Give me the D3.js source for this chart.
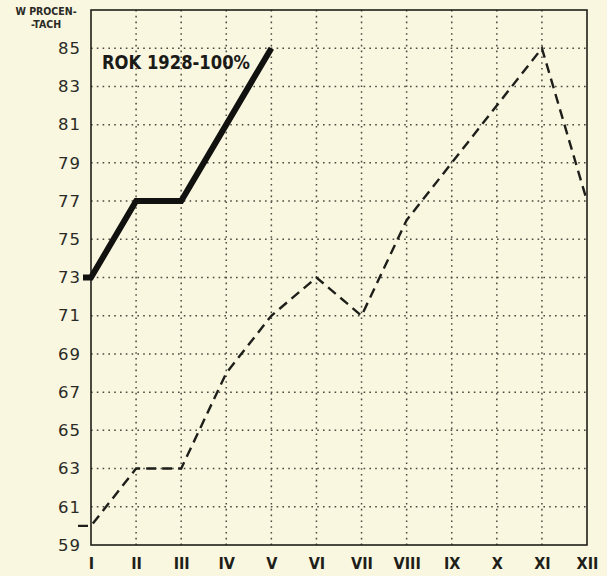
<!DOCTYPE html>
<html><head><meta charset="utf-8">
<script src="https://cdn.jsdelivr.net/npm/d3@7"></script>
<style>
html,body{margin:0;padding:0;background:#f9f7df;}
svg{display:block;}
</style></head>
<body>
<svg id="c" width="607" height="576"></svg>
<script>
const months = ["I","II","III","IV","V","VI","VII","VIII","IX","X","XI","XII"];
const yTicks = [59,61,63,65,67,69,71,73,75,77,79,81,83,85];
const series1928 = [73,77,77,81,85];            // solid, I–V
const seriesOther = [60,63,63,68,71,73,71,76,79,82,85,77]; // dashed, I–XII
const title = "ROK 1928-100%";
const unitLabel = ["W PROCEN-","-TACH"];

const svg = d3.select("#c");
const L = 91, R = 587, T = 10, B = 545;
const x = d3.scalePoint().domain(months).range([L, R]);
const y = d3.scaleLinear().domain([59, 87]).range([B, T]);
const ink = "#1e1e1a";

// grid
const g = svg.append("g");
g.selectAll("line.h").data(yTicks.filter(v => v > 59)).join("line")
  .attr("x1", L).attr("x2", R).attr("y1", d => y(d)).attr("y2", d => y(d))
  .attr("stroke", "#4a4a40").attr("stroke-width", 1.5)
  .attr("stroke-dasharray", "1.6,4.2");
g.selectAll("line.v").data(months.slice(1, -1)).join("line")
  .attr("y1", T).attr("y2", B).attr("x1", d => x(d)).attr("x2", d => x(d))
  .attr("stroke", "#4a4a40").attr("stroke-width", 1.5)
  .attr("stroke-dasharray", "1.6,4.2");

// frame
svg.append("rect").attr("x", L).attr("y", T).attr("width", R - L).attr("height", B - T)
  .attr("fill", "none").attr("stroke", ink).attr("stroke-width", 1.6);

// y axis labels
const yAxis = d3.axisLeft(y).tickValues(yTicks).tickSize(0).tickPadding(10);
const ya = svg.append("g").attr("transform", `translate(${L},0)`).call(yAxis);
ya.select(".domain").remove();
ya.selectAll("text").attr("font-family", "DejaVu Sans").attr("font-size", 16.5)
  .attr("fill", "#2a2a26").attr("letter-spacing", "1px");

// x axis labels
const xAxis = d3.axisBottom(x).tickSize(0).tickPadding(13);
const xa = svg.append("g").attr("transform", `translate(0,${B})`).call(xAxis);
xa.select(".domain").remove();
xa.selectAll("text").attr("font-family", "DejaVu Sans Condensed").attr("font-weight", "bold")
  .attr("font-size", 16).attr("fill", "#1e1e1a");

// unit label
svg.append("text").attr("x", 46).attr("y", 15).attr("text-anchor", "middle")
  .attr("font-family", "DejaVu Sans Condensed").attr("font-size", 10.5).attr("font-weight", "bold")
  .attr("fill", "#2a2a26").text(unitLabel[0]);
svg.append("text").attr("x", 46).attr("y", 28).attr("text-anchor", "middle")
  .attr("font-family", "DejaVu Sans Condensed").attr("font-size", 10.5).attr("font-weight", "bold")
  .attr("fill", "#2a2a26").text(unitLabel[1]);

// lines with short lead-in stub left of frame
function pathFor(vals, stub) {
  const pts = vals.map((v, i) => [x(months[i]), y(v)]);
  pts.unshift([pts[0][0] - stub, pts[0][1]]);
  return d3.line()(pts);
}
svg.append("path").attr("d", pathFor(seriesOther, 13))
  .attr("fill", "none").attr("stroke", ink).attr("stroke-width", 2.4)
  .attr("stroke-dasharray", "10,6").attr("stroke-linejoin", "miter");
svg.append("path").attr("d", pathFor(series1928, 8))
  .attr("fill", "none").attr("stroke", "#111110").attr("stroke-width", 6)
  .attr("stroke-linejoin", "miter");

// title
svg.append("text").attr("x", 102).attr("y", 69)
  .attr("font-family", "DejaVu Sans").attr("font-weight", "bold").attr("font-size", 19)
  .attr("fill", "#1a1a18").attr("textLength", 148).attr("lengthAdjust", "spacingAndGlyphs")
  .text(title);
</script>
</body></html>
